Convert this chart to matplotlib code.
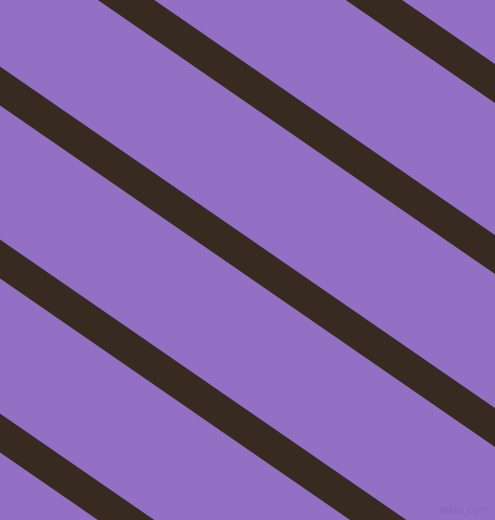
## Diagonal stripe pattern (pixlis style swatch)
import numpy as np
import matplotlib
matplotlib.use("Agg")
import matplotlib.pyplot as plt

## -----------------------
## Data read off the picture (pixel units, y measured downward)
stripe_offsets = [-258, -87, 86, 259, 433]   # y where each stripe centre meets x=0
stripe_slope = 0.69                           # dy/dx of the stripes
stripe_width_px = 32                          # perpendicular width

bg_color = "#9370c4"
stripe_color = "#372a20"

## -----------------------
## Figure
W, H = 495, 520
fig = plt.figure(figsize=(W / 100, H / 100), dpi=100)
fig.patch.set_facecolor(bg_color)
ax = fig.add_axes([0, 0, 1, 1])
ax.set_facecolor(bg_color)
ax.set_xlim(0, W)
ax.set_ylim(H, 0)
ax.axis("off")

## stripes as filled bands (stroked lines get cut square at the canvas edge)
half = stripe_width_px / 2 * np.sqrt(1 + stripe_slope ** 2)   # half vertical thickness
xs = np.array([-100, W + 100, W + 100, -100])
for b in stripe_offsets:
    ys = b + stripe_slope * xs + np.array([-half, -half, half, half])
    ax.fill(xs, ys, color=stripe_color, linewidth=0)

## watermark
ax.text(488, 510, "pixlis.com", color="#8466b4", fontsize=7, ha="right", va="center")

fig.savefig("out.png", dpi=100, facecolor=bg_color)
